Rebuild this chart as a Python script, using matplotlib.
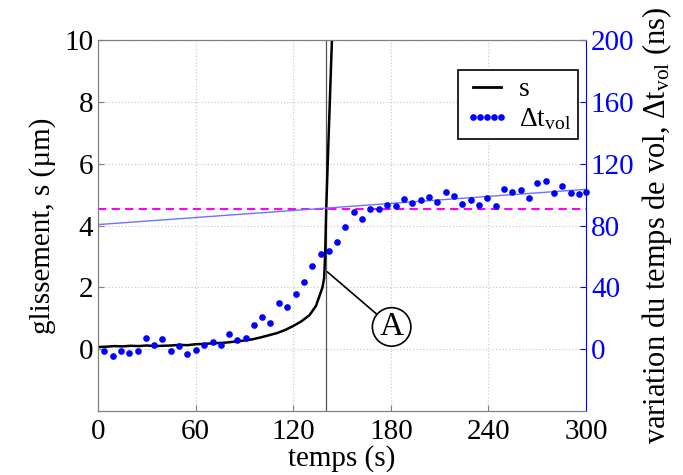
import matplotlib
matplotlib.use("Agg")
import matplotlib.pyplot as plt
from matplotlib.lines import Line2D

plt.rcParams['font.family'] = ['Liberation Serif', 'DejaVu Serif']
plt.rcParams['mathtext.fontset'] = 'custom'
plt.rcParams['mathtext.rm'] = 'Liberation Serif'
plt.rcParams['mathtext.it'] = 'Liberation Serif:italic'

# --- data ---
t_s = [0, 5, 10, 15, 20, 25, 30, 35, 40, 45, 50, 55, 60, 65, 70, 75, 80, 85, 90,
       95, 100, 105, 110, 115, 120, 125, 130, 134, 136, 138, 139, 139.6, 140.3,
       141.2, 142.5, 143.8, 144.5]
s_vals = [0.07, 0.08, 0.10, 0.09, 0.11, 0.10, 0.12, 0.10, 0.11, 0.12, 0.14, 0.13,
          0.16, 0.17, 0.19, 0.20, 0.22, 0.25, 0.28, 0.32, 0.38, 0.45, 0.52, 0.62,
          0.75, 0.90, 1.10, 1.40, 1.70, 2.00, 2.30, 3.00, 4.55, 6.00, 8.00, 10.0, 11.0]

t_dt = [3.7, 9.0, 14.0, 19.0, 24.4, 29.5, 34.4, 39.5, 44.9, 50.0, 55.0, 60.0,
        65.4, 70.5, 75.4, 80.7, 85.6, 90.8, 95.9, 101.0, 106.0, 111.4, 116.3,
        121.7, 126.6, 131.7, 136.9, 141.8, 146.8, 151.8, 157.1, 162.2, 167.3,
        172.7, 177.8, 182.9, 188.0, 193.2, 198.3, 203.4, 208.5, 213.7, 218.8,
        223.9, 229.0, 234.2, 239.3, 244.4, 249.5, 254.6, 259.8, 264.9, 270.0,
        275.2, 280.3, 285.4, 290.5, 295.6, 300.0]
dt_vals = [-1.1, -4.5, -1.5, -2.6, -1.5, 7.1, 2.4, 6.7, -1.5, 2.2, -3.0, -0.4,
           2.8, 4.5, 3.0, 9.9, 5.8, 7.3, 15.7, 20.5, 17.0, 29.6, 27.0, 35.8,
           43.2, 53.9, 61.3, 63.4, 69.6, 79.2, 88.9, 84.1, 91.0, 90.6, 93.2,
           92.7, 97.1, 94.7, 96.4, 98.2, 95.3, 101.4, 99.0, 94.0, 96.6, 93.4,
           97.7, 92.6, 103.7, 101.6, 103.1, 97.9, 107.2, 108.5, 101.2, 105.3,
           100.8, 100.1, 101.8]

trend_t = [0, 300]
trend_dt = [80.6, 103.4]
ref_level_s = 4.55
t_event = 140

xticks = [0, 60, 120, 180, 240, 300]
yticks_left = [0, 2, 4, 6, 8, 10]
yticks_right = [0, 40, 80, 120, 160, 200]

BLUE = '#0000ff'
GRAY = '#7f7f7f'

fig = plt.figure(figsize=(6.83, 4.75), dpi=100)
ax = fig.add_axes([0.1435, 0.1347, 0.7145, 0.7811])
ax2 = ax.twinx()

ax.set_xlim(0, 300)
ax.set_ylim(-2, 10)
ax2.set_ylim(-40, 200)

ax.grid(True, color='#cccccc', linestyle=':', linewidth=0.9)
ax.set_axisbelow(True)

ax.plot(t_s, s_vals, color='black', lw=1.8, zorder=3)
ax.axhline(ref_level_s, color='#ff00ff', lw=1.5, ls=(0, (4, 2.5)), zorder=2)
ax.axvline(t_event, color='#555555', lw=0.9, zorder=2)

ax2.plot(trend_t, trend_dt, color='#7070ff', lw=1.0, zorder=2)
ax2.plot(t_dt, dt_vals, 'o', color=BLUE, ms=4.8, mec='none', zorder=4, clip_on=False)

# annotation A
ax.annotate('A', xy=(141, 2.5), xytext=(180.5, 0.72), fontsize=24,
            ha='center', va='center',
            bbox=dict(boxstyle='circle,pad=0.12', fc='white', ec='black', lw=1.2),
            arrowprops=dict(arrowstyle='-', color='black', lw=1.2, shrinkA=0, shrinkB=0))

ax.set_xticks(xticks)
ax.set_yticks(yticks_left)
ax2.set_yticks(yticks_right)
ax.tick_params(axis='both', direction='in', labelsize=21, length=4, color=GRAY)
ax2.tick_params(axis='y', direction='in', labelsize=21, length=4, colors=BLUE)
ax.tick_params(axis='x', pad=6)

for sp in ['left', 'top', 'bottom']:
    ax.spines[sp].set_color(GRAY)
    ax2.spines[sp].set_color(GRAY)
ax.spines['right'].set_visible(False)
ax2.spines['right'].set_color(BLUE)

ax.set_xlabel('temps (s)', fontsize=21, labelpad=0)
ax.set_ylabel('glissement, s (µm)', fontsize=21, labelpad=6)
ax2.set_ylabel('variation du temps de vol, Δt$_{\\mathrm{vol}}$ (ns)', fontsize=22,
               labelpad=4)

handles = [Line2D([], [], color='black', lw=2),
           Line2D([], [], color=BLUE, marker='o', ls='none', ms=4.8, mec='none')]
leg = ax2.legend(handles, ['s', 'Δt$_{\\mathrm{vol}}$'], loc='upper right',
                 bbox_to_anchor=(0.984, 0.919), fontsize=20, numpoints=5,
                 fancybox=False, framealpha=1, edgecolor='black',
                 handlelength=1.6, handletextpad=0.35, borderpad=0.25,
                 labelspacing=0.15, borderaxespad=0)
leg.get_frame().set_linewidth(1.2)

fig.savefig('out.png', dpi=100)
